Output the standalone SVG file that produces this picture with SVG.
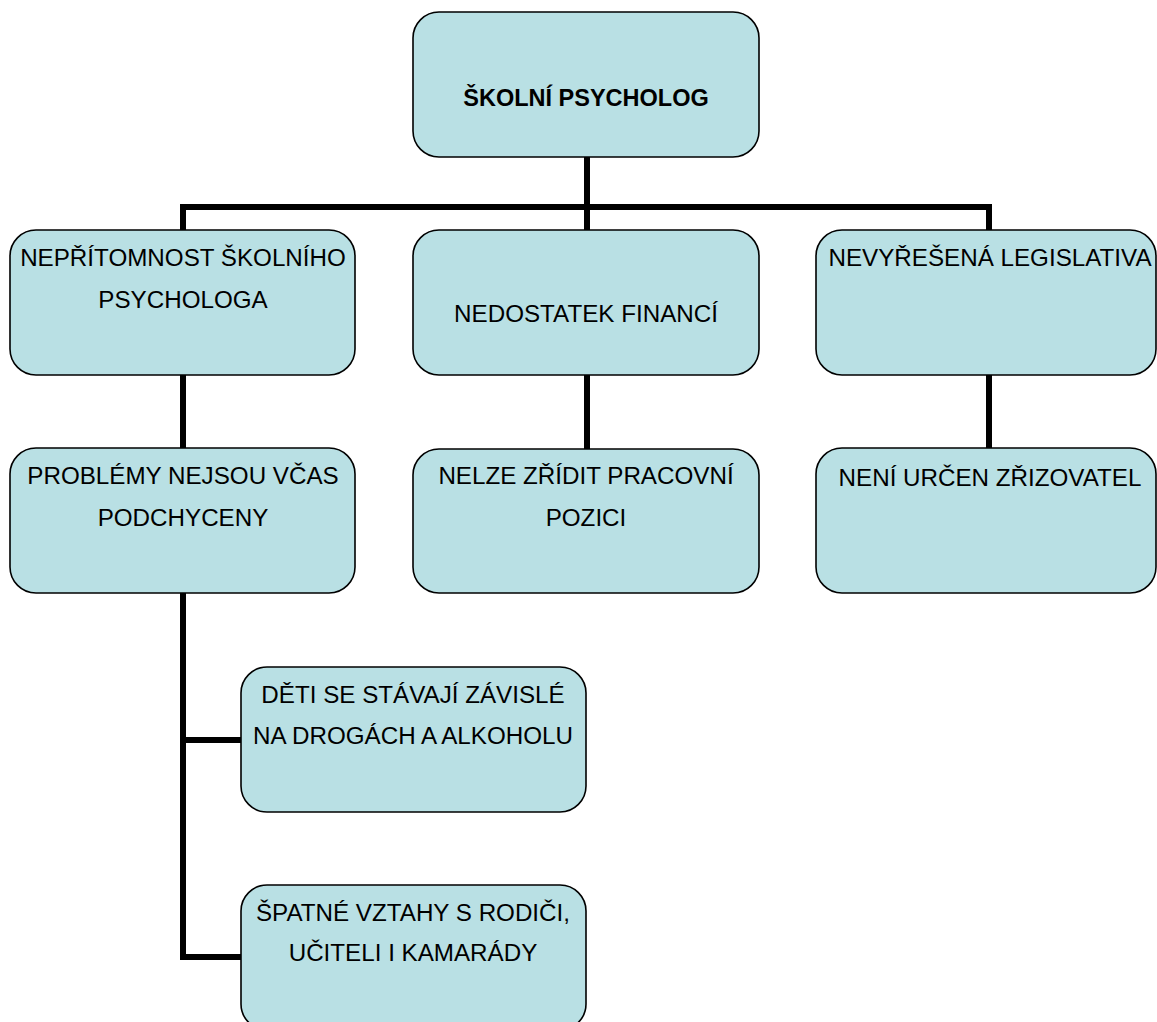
<svg xmlns="http://www.w3.org/2000/svg" width="1157" height="1022" viewBox="0 0 1157 1022">
<style>
.box{fill:#B9E0E4;stroke:#000;stroke-width:1.6}
.t{font-family:"Liberation Sans",Arial,sans-serif;font-size:24.2px;fill:#000;text-anchor:middle}
.b{font-weight:bold;font-size:23.5px}
.c{fill:none;stroke:#000;stroke-width:6;stroke-linecap:butt;stroke-linejoin:miter}
</style>
<rect width="1157" height="1022" fill="#fff"/>
<g id="connectors">
<path class="c" d="M587 157 V230"/>
<path class="c" d="M183 230 V207 H989 V230"/>
<path class="c" d="M183 375 V448"/>
<path class="c" d="M587 375 V449"/>
<path class="c" d="M989 375 V448"/>
<path class="c" d="M183 593 V957 H241"/>
<path class="c" d="M183 740 H241"/>
</g>
<g id="n0">
<rect class="box" x="413" y="12" width="346" height="145" rx="26"/>
<text class="t b" x="586" y="106">ŠKOLNÍ PSYCHOLOG</text>
</g>
<g id="n1">
<rect class="box" x="10" y="230" width="345" height="145" rx="26"/>
<text class="t" x="183" y="266">NEPŘÍTOMNOST ŠKOLNÍHO</text>
<text class="t" x="183" y="308">PSYCHOLOGA</text>
</g>
<g id="n2">
<rect class="box" x="413" y="230" width="346" height="145" rx="26"/>
<text class="t" x="586" y="322">NEDOSTATEK FINANCÍ</text>
</g>
<g id="n3">
<rect class="box" x="816" y="230" width="340" height="145" rx="26"/>
<text class="t" x="990" y="266">NEVYŘEŠENÁ LEGISLATIVA</text>
</g>
<g id="n4">
<rect class="box" x="10" y="448" width="345" height="145" rx="26"/>
<text class="t" x="183" y="484">PROBLÉMY NEJSOU VČAS</text>
<text class="t" x="183" y="526">PODCHYCENY</text>
</g>
<g id="n5">
<rect class="box" x="413" y="449" width="346" height="144" rx="26"/>
<text class="t" x="586" y="484">NELZE ZŘÍDIT PRACOVNÍ</text>
<text class="t" x="586" y="526">POZICI</text>
</g>
<g id="n6">
<rect class="box" x="816" y="448" width="340" height="145" rx="26"/>
<text class="t" x="990" y="486">NENÍ URČEN ZŘIZOVATEL</text>
</g>
<g id="n7">
<rect class="box" x="241" y="667" width="345" height="145" rx="26"/>
<text class="t" x="413" y="703">DĚTI SE STÁVAJÍ ZÁVISLÉ</text>
<text class="t" x="413" y="744">NA DROGÁCH A ALKOHOLU</text>
</g>
<g id="n8">
<rect class="box" x="241" y="885" width="345" height="145" rx="26"/>
<text class="t" x="413" y="921">ŠPATNÉ VZTAHY S RODIČI,</text>
<text class="t" x="413" y="961">UČITELI I KAMARÁDY</text>
</g>
</svg>
